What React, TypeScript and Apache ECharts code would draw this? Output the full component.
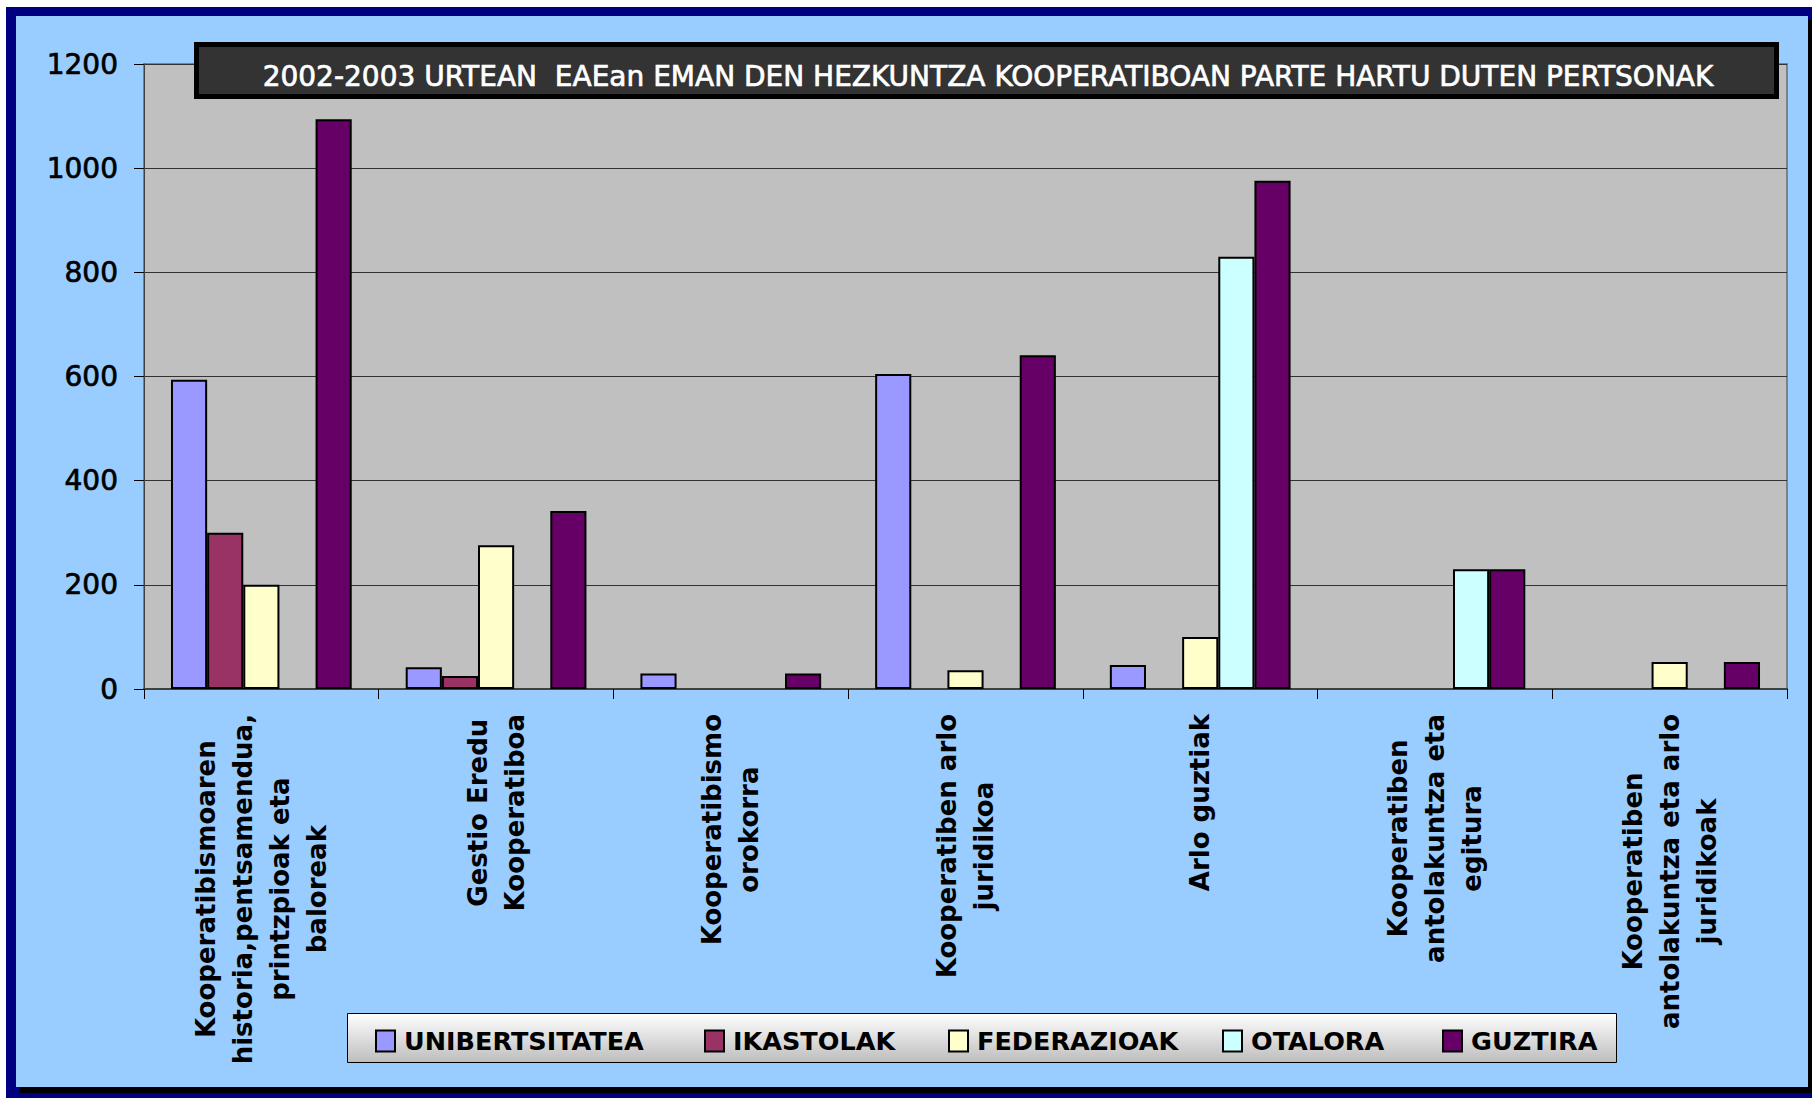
import React, { useEffect, useRef } from "react";
import * as echarts from "echarts";

const categories = [
  "Kooperatibismoaren\nhistoria,pentsamendua,\nprintzpioak eta\nbaloreak",
  "Gestio Eredu\nKooperatiboa",
  "Kooperatibismo\norokorra",
  "Kooperatiben arlo\njuridikoa",
  "Arlo guztiak",
  "Kooperatiben\nantolakuntza eta\negitura",
  "Kooperatiben\nantolakuntza eta arlo\njuridikoak",
];

const seriesNames = ["UNIBERTSITATEA", "IKASTOLAK", "FEDERAZIOAK", "OTALORA", "GUZTIRA"];
const unibertsitatea = [594, 42, 30, 605, 46, null, null];
const ikastolak = [300, 25, null, null, null, null, null];
const federazioak = [200, 276, null, 36, 100, null, 52];
const otalora = [null, null, null, null, 830, 230, null];
const guztira = [1094, 342, 30, 641, 976, 230, 52];

const yMin = 0;
const yMax = 1200;
const yInterval = 200;

const titleText =
  "2002-2003 URTEAN  EAEan EMAN DEN HEZKUNTZA KOOPERATIBOAN PARTE HARTU DUTEN PERTSONAK";

const FONT = '"DejaVu Sans", Verdana, sans-serif';
const colors = ["#9999FF", "#993366", "#FFFFCC", "#CCFFFF", "#660066"];
const legendLefts = [375, 704, 948, 1222, 1442];

export default function App() {
  const ref = useRef<HTMLDivElement>(null);

  useEffect(() => {
    if (!ref.current) return;
    const chart = echarts.init(ref.current, undefined, { renderer: "svg" });
    const seriesData = [unibertsitatea, ikastolak, federazioak, otalora, guztira];

    const option: any = {
      animation: false,
      backgroundColor: "#ffffff",
      graphic: [
        { type: "rect", z: -100, shape: { x: 6, y: 7, width: 1806, height: 1091 }, style: { fill: "#000080" } },
        { type: "rect", z: -99, shape: { x: 20, y: 20, width: 1792, height: 1073 }, style: { fill: "#000000" } },
        { type: "rect", z: -98, shape: { x: 16, y: 16, width: 1792, height: 1071 }, style: { fill: "#99CCFF" } },
        {
          type: "rect",
          z: -50,
          shape: { x: 347.5, y: 1013.5, width: 1269, height: 49 },
          style: {
            fill: new echarts.graphic.LinearGradient(0, 0, 0, 1, [
              { offset: 0, color: "#ffffff" },
              { offset: 1, color: "#bdbdbd" },
            ]),
            stroke: "#000000",
            lineWidth: 1,
          },
        },
        {
          type: "rect",
          z: 50,
          shape: { x: 196.5, y: 44.5, width: 1580, height: 52 },
          style: { fill: "#333333", stroke: "#000000", lineWidth: 5 },
        },
        {
          type: "text",
          z: 51,
          x: 988,
          y: 76,
          style: {
            text: titleText,
            fill: "#ffffff",
            fontFamily: FONT,
            fontSize: 28,
            fontWeight: "normal",
            align: "center",
            verticalAlign: "middle",
            stroke: "#ffffff",
            lineWidth: 0.7,
          },
        },
      ],
      grid: {
        left: 144,
        top: 64,
        width: 1643,
        height: 625,
        show: true,
        backgroundColor: "#C0C0C0",
        borderColor: "#808080",
        borderWidth: 2,
        containLabel: false,
      },
      legend: seriesNames.map((n, i) => ({
        data: [n],
        left: legendLefts[i],
        top: 1028,
        padding: 0,
        itemWidth: 19,
        itemHeight: 21,
        icon: "rect",
        selectedMode: false,
        textStyle: {
          fontFamily: FONT,
          fontWeight: "bold",
          fontSize: 25.5,
          color: "#000000",
          padding: [0, 0, 0, 4],
        },
      })),
      xAxis: {
        type: "category",
        data: categories,
        boundaryGap: true,
        axisLine: { show: true, lineStyle: { color: "#404040", width: 2 } },
        axisTick: { show: true, length: 10, interval: 0, lineStyle: { color: "#000000", width: 1 } },
        axisLabel: {
          interval: 0,
          rotate: 90,
          margin: 25,
          color: "#000000",
          formatter: (v: string) =>
            v
              .split("\n")
              .map((l) => "{c|" + l + "}")
              .join("\n"),
          rich: {
            c: {
              align: "center",
              fontFamily: FONT,
              fontWeight: "bold",
              fontSize: 26,
              lineHeight: 37,
              color: "#000000",
            },
          },
        },
        splitLine: { show: false },
      },
      yAxis: {
        type: "value",
        min: yMin,
        max: yMax,
        interval: yInterval,
        axisLine: { show: true, lineStyle: { color: "#404040", width: 1 } },
        axisTick: { show: true, length: 10, lineStyle: { color: "#000000", width: 1 } },
        axisLabel: {
          margin: 26,
          fontFamily: FONT,
          fontSize: 28,
          color: "#000000",
          textBorderColor: "#000000",
          textBorderWidth: 0.7,
          formatter: (v: number) => String(v),
        },
        splitLine: { show: true, lineStyle: { color: "#333333", width: 1 } },
      },
      series: seriesNames.map((n, i) => ({
        name: n,
        type: "bar",
        data: seriesData[i],
        barGap: "0%",
        barCategoryGap: "23%",
        itemStyle: { color: colors[i], borderColor: "#000000", borderWidth: 2 },
      })),
    };

    chart.setOption(option);
    return () => chart.dispose();
  }, []);

  return (
    <div
      ref={ref}
      style={{ position: "fixed", left: 0, top: 0, width: 1812, height: 1098 }}
    />
  );
}
